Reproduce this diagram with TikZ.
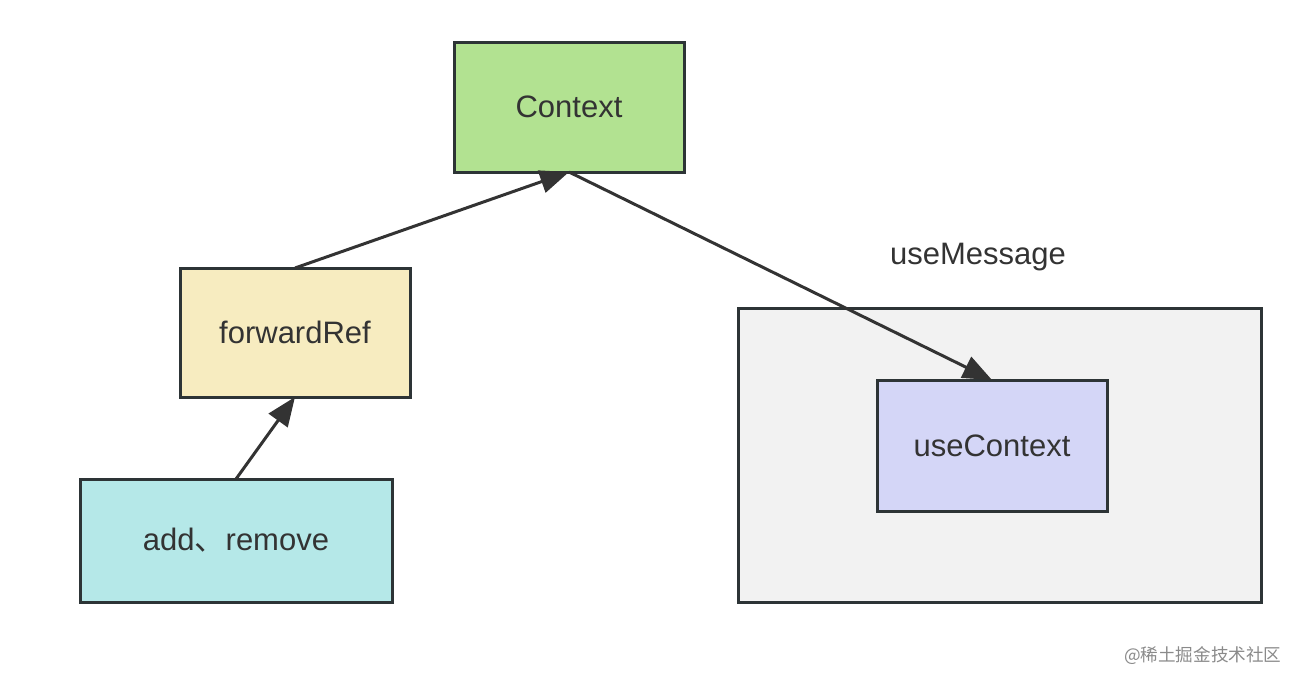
\documentclass[tikz,border=0pt]{standalone}
\usepackage{fontspec}
\setmainfont{Liberation Sans}
\newfontfamily\cjk{Noto Sans CJK SC}
\usetikzlibrary{arrows.meta}
\definecolor{strokec}{HTML}{2D3436}
\definecolor{linec}{HTML}{333333}
\definecolor{txtc}{HTML}{333333}
\definecolor{greenf}{HTML}{B2E291}
\definecolor{yellowf}{HTML}{F7ECC0}
\definecolor{cyanf}{HTML}{B5E8E8}
\definecolor{clusterf}{HTML}{F2F2F2}
\definecolor{bluef}{HTML}{D4D6F7}
\definecolor{wmc}{HTML}{8A8A8A}
\tikzset{
  box/.style={draw=strokec, line width=3pt, rectangle, inner sep=0pt, outer sep=0pt,
    text=txtc, font=\fontsize{31}{36}\selectfont},
  conn/.style={draw=linec, line width=3pt, -{Triangle[length=29pt,width=23pt]}}
}
\begin{document}
\begin{tikzpicture}[x=1pt,y=-1pt]
\useasboundingbox (0,0) rectangle (1292,672);
\node[box, fill=clusterf, minimum width=523pt, minimum height=294pt] (cl) at (999.5,455) {};
\node[text=txtc, font=\fontsize{31}{36}\selectfont] (cllabel) at (978,257) {useMessage};
\node[box, fill=greenf, minimum width=230pt, minimum height=130pt] (ctx) at (569,107) {Context};
\node[box, fill=yellowf, minimum width=230pt, minimum height=129pt] (fwd) at (295,332.5) {forwardRef};
\node[box, fill=cyanf, minimum width=312pt, minimum height=123pt] (add) at (236,540.5) {add{\cjk 、}remove};
\node[box, fill=bluef, minimum width=230pt, minimum height=131pt] (use) at (992,445.5) {useContext};
\draw[conn] (fwd.north) -- (ctx.south);
\draw[conn] (ctx.south) -- (use.north);
\draw[conn] (add.north) -- (fwd.south);
\node[text=wmc, font=\cjk\fontsize{17.6}{20}\selectfont, anchor=east] (wm) at (1285,656) {@稀土掘金技术社区};
\end{tikzpicture}
\end{document}
